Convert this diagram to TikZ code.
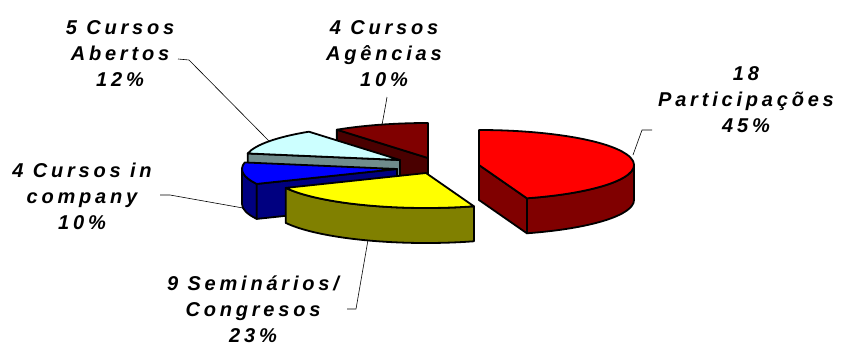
\documentclass[tikz,border=0pt]{standalone}
\usepackage{fontspec}
\setmainfont{Liberation Sans}
\usetikzlibrary{calc}
\definecolor{pttop}{RGB}{255,0,0}
\definecolor{ptside}{RGB}{128,0,0}
\definecolor{smtop}{RGB}{255,255,0}
\definecolor{smside}{RGB}{128,128,0}
\definecolor{ictop}{RGB}{0,0,255}
\definecolor{icside}{RGB}{0,0,128}
\definecolor{abtop}{RGB}{204,255,255}
\definecolor{abside}{RGB}{112,140,140}
\definecolor{agtop}{RGB}{128,0,0}
\definecolor{agside}{RGB}{74,0,0}

\begin{document}
\begin{tikzpicture}
  [x=1pt,y=1pt,line join=round,
   every node/.style={font=\bfseries\itshape\fontsize{20}{26}\selectfont\addfontfeature{LetterSpace=19},
     align=center,inner sep=0pt},
   face/.style={draw=black,line width=1.8pt},
   rim/.style={x radius=155,y radius=35},
   leader/.style={draw=black,line width=0.6pt}]
  \useasboundingbox (0,0) rectangle (841,-346);
  % slice centres
  \coordinate (agc) at (428,-158);
  \coordinate (abc) at (400,-160);
  \coordinate (icc) at (397,-169);
  \coordinate (smc) at (426,-173);
  \coordinate (ptc) at (479,-165);

  % 4 Cursos Agencias
  \filldraw[face,fill=agside] (agc) -- ++(126:155 and 35) -- ++(0,-35) -- ($(agc)+(0,-35)$) -- cycle;
  \filldraw[face,fill=agtop] (agc) -- ++(126:155 and 35) arc[rim,start angle=126,end angle=90] -- cycle;
  % 5 Cursos Abertos
  \filldraw[face,fill=abside] (abc) -- ++(169.2:155 and 35) -- ++(0,-35) -- ($(abc)+(0,-35)$) -- cycle;
  \filldraw[face,fill=abtop] (abc) -- ++(169.2:155 and 35) arc[rim,start angle=169.2,end angle=126] -- cycle;
  % 4 Cursos in company
  \filldraw[face,fill=icside] ($(icc)+(180:155 and 35)$) arc[rim,start angle=180,end angle=205.2]
    -- ++(0,-35) arc[rim,start angle=205.2,end angle=180] -- cycle;
  \filldraw[face,fill=icside] (icc) -- ++(205.2:155 and 35) -- ++(0,-35) -- ($(icc)+(0,-35)$) -- cycle;
  \filldraw[face,fill=ictop] (icc) -- ++(205.2:155 and 35) arc[rim,start angle=205.2,end angle=169.2] -- cycle;
  % 9 Seminarios
  \filldraw[face,fill=smside] ($(smc)+(205.2:155 and 35)$) arc[rim,start angle=205.2,end angle=288]
    -- ++(0,-35) arc[rim,start angle=288,end angle=205.2] -- cycle;
  \filldraw[face,fill=smtop] (smc) -- ++(288:155 and 35) arc[rim,start angle=288,end angle=205.2] -- cycle;
  % 18 Participacoes
  \filldraw[face,fill=ptside] ($(ptc)+(288:155 and 35)$) arc[rim,start angle=288,end angle=360]
    -- ++(0,-35) arc[rim,start angle=360,end angle=288] -- cycle;
  \filldraw[face,fill=ptside] (ptc) -- ++(288:155 and 35) -- ++(0,-35) -- ($(ptc)+(0,-35)$) -- cycle;
  \filldraw[face,fill=pttop] (ptc) -- ++(288:155 and 35) arc[rim,start angle=288,end angle=450] -- cycle;

  % labels
  \node (ab) at (120,-54) {5 Cursos\\Abertos\\12\%};
  \node (ag) at (384,-54) {4 Cursos\\Agências\\10\%};
  \node (pt) at (746,-100) {18\\Participações\\45\%};
  \node (ic) at (82,-196) {4 Cursos in\\company\\10\%};
  \node (sm) at (253,-309) {9 Seminários/\\Congresos\\23\%};

  \coordinate (ab1) at (178,-59);  \coordinate (ab2) at (189,-60);  \coordinate (ab3) at (270,-142);
  \coordinate (ag1) at (387,-97);  \coordinate (ag2) at (386,-103); \coordinate (ag3) at (382,-125);
  \coordinate (pt1) at (652,-130); \coordinate (pt2) at (642,-130); \coordinate (pt3) at (633,-155);
  \coordinate (ic1) at (160,-195); \coordinate (ic2) at (170,-195); \coordinate (ic3) at (243,-208);
  \coordinate (sm1) at (347,-309); \coordinate (sm2) at (356,-309); \coordinate (sm3) at (368,-240);
  \foreach \a/\b/\c in {ab1/ab2/ab3,ag1/ag2/ag3,pt1/pt2/pt3,ic1/ic2/ic3,sm1/sm2/sm3}
    \draw[leader] (\a) -- (\b) -- (\c);
\end{tikzpicture}
\end{document}
